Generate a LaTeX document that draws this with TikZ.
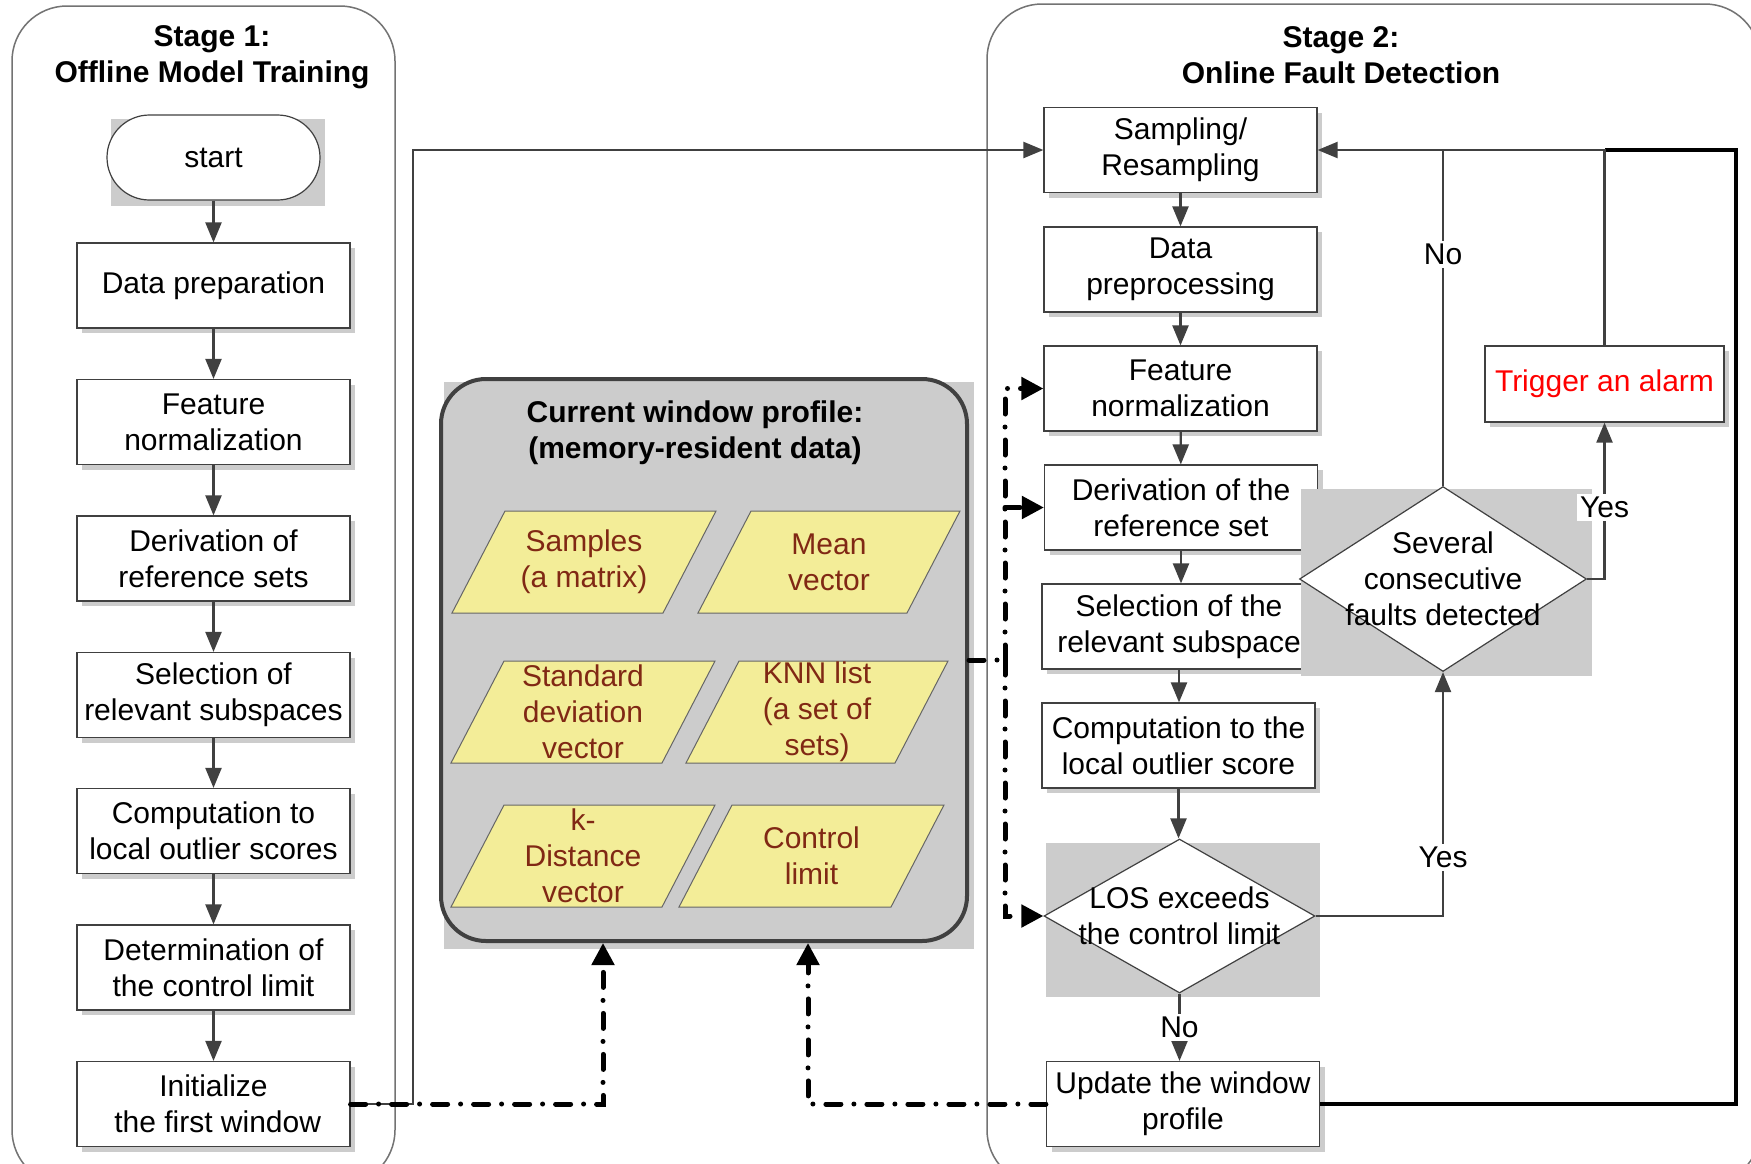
\documentclass[tikz,border=0pt]{standalone}
\usepackage{fontspec}
\setmainfont{Liberation Sans}
\usetikzlibrary{shapes.geometric,shapes.misc,arrows.meta,shadows,calc}
\definecolor{dk}{HTML}{404040}
\definecolor{shgrey}{HTML}{CCCCCC}
\definecolor{paraY}{RGB}{243,237,152}
\definecolor{paraT}{RGB}{128,40,20}
% parallelogram: name, cx, cy, total width
\newcommand{\myparagram}[4]{%
  \draw[paraS] ({#2-#4/2},{#3+51}) -- ({#2+#4/2-53},{#3+51}) -- ({#2+#4/2},{#3-51}) -- ({#2-#4/2+53},{#3-51}) -- cycle;
  \coordinate (#1) at (#2,#3);}
\begin{document}
\begin{tikzpicture}[x=1pt,y=-1pt,font=\fontsize{30}{36}\selectfont,
  box/.style={draw=dk,line width=1.2pt,fill=white,minimum width=273pt,minimum height=85pt,
    align=center,inner sep=0pt,drop shadow={shadow xshift=5pt,shadow yshift=-5pt,fill=black!20,opacity=1}},
  arr/.style={draw=dk,line width=2.2pt,-{Triangle[length=20pt,width=16pt]}},
  plain/.style={draw=dk,line width=2.2pt},
  loopline/.style={draw=black,line width=3.5pt},
  ddline/.style={draw=black,line width=5pt,line cap=round,dash pattern=on 15pt off 13pt on 0pt off 13pt},
  dd/.style={ddline,-{Triangle[length=22pt,width=22pt,line cap=butt]}},
  lbl/.style={fill=white,inner sep=3pt},
  stage/.style={draw=black!55,line width=1.5pt,rounded corners=55pt},
  ttl/.style={font=\fontsize{30}{36}\selectfont\bfseries,align=center},
  dia/.style={diamond,draw=dk,line width=1.2pt,fill=white,inner sep=0pt},
  paraS/.style={draw=dk!80,line width=1pt,fill=paraY},
  ptext/.style={text=paraT,align=center}]
\fill[white] (0,0) rectangle (1751,1163);
\useasboundingbox (0,0) rectangle (1751,1163);

% stage frames
\draw[stage] (12,6) rectangle (395,1185);
\draw[stage] (987,4) rectangle (1760,1185);
\node[ttl] (t1) at (212,57) {Stage 1:\\Offline Model Training};
\node[ttl] (t2) at (1341,55) {Stage 2:\\Online Fault Detection};

% stage 1 column
\fill[shgrey] (111,119) rectangle (325,206);
\node[rounded rectangle,draw=dk,line width=1.2pt,fill=white,minimum width=213pt,minimum height=85pt,inner sep=0pt] (start) at (213.5,157.5) {start};
\node[box] (a1) at (213.5,285.5) {Data preparation};
\node[box] (a2) at (213.5,422) {Feature\\normalization};
\node[box] (a3) at (213.5,558.5) {Derivation of\\reference sets};
\node[box] (a4) at (213.5,695) {Selection of\\relevant subspaces};
\node[box] (a5) at (213.5,831) {Computation to\\local outlier scores};
\node[box] (a6) at (213.5,967.5) {Determination of\\the control limit};
\node[box] (a7) at (213.5,1104) {Initialize\\\ the first window};
\draw[arr] (start.south) -- (a1.north);
\draw[arr] (a1) -- (a2);
\draw[arr] (a2) -- (a3);
\draw[arr] (a3) -- (a4);
\draw[arr] (a4) -- (a5);
\draw[arr] (a5) -- (a6);
\draw[arr] (a6) -- (a7);

% profile
\fill[shgrey] (444,382) rectangle (974,949);
\node[draw=dk,line width=4pt,fill=shgrey,rounded corners=45pt,minimum width=526pt,minimum height=562pt,inner sep=0pt] (prof) at (704,660) {};
\node[ttl] (proft) at (695,433) {Current window profile:\\(memory-resident data)};
\myparagram{p1}{584}{562}{264}
\node[ptext] (p1t) at (p1) {Samples\\(a matrix)};
\myparagram{p2}{829}{562}{262}
\node[ptext] (p2t) at (p2) {Mean\\vector};
\myparagram{p3}{583}{712}{264}
\node[ptext] (p3t) at (p3) {Standard\\deviation\\vector};
\myparagram{p4}{817}{712}{262}
\node[ptext] (p4t) at (p4) {KNN list\\(a set of\\sets)};
\myparagram{p5}{583}{856}{264}
\node[ptext] (p5t) at (p5) {k-\\Distance\\vector};
\myparagram{p6}{811.5}{856}{265}
\node[ptext] (p6t) at (p6) {Control\\limit};

% stage 2 column
\node[box] (b1) at (1180.5,150) {Sampling/\\Resampling};
\node[box] (b2) at (1180.5,269.5) {Data\\preprocessing};
\node[box] (b3) at (1180.5,388.5) {Feature\\normalization};
\node[box] (b4) at (1181,507.5) {Derivation of the\\reference set};
\node[box,minimum width=274pt] (b5) at (1179,626.5) {Selection of the\\relevant subspace};
\node[box] (b6) at (1178.5,745.5) {Computation to the\\local outlier score};
\fill[shgrey] (1046,843) rectangle (1320,997);
\node[dia,minimum width=271pt,minimum height=154pt] (los) at (1179.5,916) {};
\node[align=center] (lostxt) at (los) {LOS exceeds\\the control limit};
\node[box] (b7) at (1183,1104) {Update the window\\profile};
\fill[shgrey] (1301,489) rectangle (1592,676);
\node[dia,minimum width=287pt,minimum height=185pt] (sev) at (1443,579) {};
\node[align=center] (sevtxt) at (sev) {Several\\consecutive\\faults detected};
\node[box,minimum width=239pt,minimum height=76pt,text=red] (alarm) at (1604.5,384) {Trigger an alarm};

\draw[arr] (b1) -- (b2);
\draw[arr] (b2) -- (b3);
\draw[arr] (b3) -- (b4);
\draw[arr] (b4.south) -- (b4.south |- b5.north);
\draw[arr] (b5.south) -- (b5.south |- b6.north);
\draw[arr] (b6.south) -- (b6.south |- los.north);
\draw[arr] (los.south) -- node[lbl]{No} (los.south |- b7.north);
\draw[arr] (los.east) -| node[lbl,pos=0.62]{Yes} (sev.south);
\draw[arr] (sev.east) -| node[lbl,pos=0.73]{Yes} (alarm.south);

% loops to sampling
\coordinate (rc) at (1736,1104);
\draw[loopline] (b7.east) -- (rc) -- (rc |- b1.east) -- (alarm.north |- b1.east);
\draw[plain] (alarm.north) -- (alarm.north |- b1.east) -- (sev.north |- b1.east);
\draw[arr] (sev.north) -- node[lbl,pos=0.69]{No} (sev.north |- b1.east) -- (b1.east);
\coordinate (lc) at (413,1104);
\draw[arr] (a7.east) -- (lc) -- (lc |- b1.west) -- (b1.west);

% dash-dot data flows
\coordinate (d1) at (603,1104);
\coordinate (d2) at (808,1104);
\coordinate (d3) at (1005,660);
\draw[dd] (a7.east) -- (d1) -- (d1 |- prof.south);
\draw[dd] (b7.west) -- (d2) -- (d2 |- prof.south);
\draw[ddline] (prof.east) -- (d3);
\draw[dd] (d3) |- (b3.west);
\draw[dd] (d3) |- (los.west);
\draw[dd] (d3 |- b4.west) -- (b4.west);
\end{tikzpicture}
\end{document}
